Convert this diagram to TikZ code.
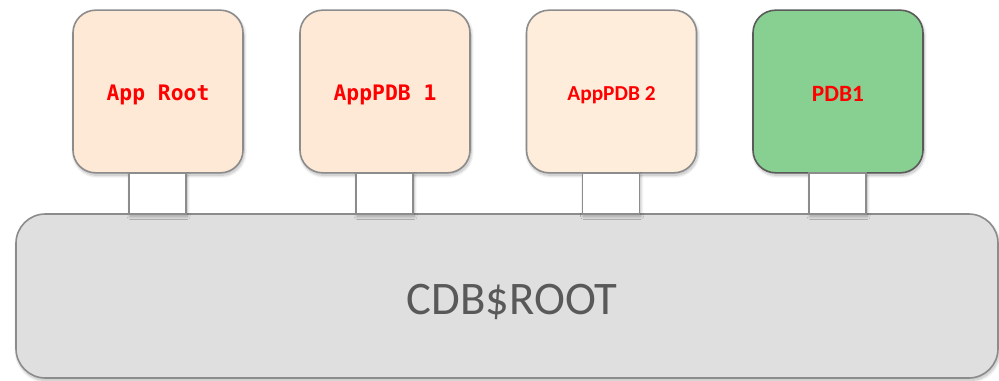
\documentclass[tikz,border=0pt]{standalone}
\usepackage{fontspec}
\setmainfont{Carlito}
\newfontfamily\monobold{DejaVu Sans Mono}
\usetikzlibrary{shadows.blur}
\definecolor{peach}{HTML}{FEE8D6}
\definecolor{peachlight}{HTML}{FEEDDB}
\definecolor{pdbgreen}{HTML}{88D091}
\definecolor{rootgray}{HTML}{DFDFDF}
\definecolor{edgegray}{HTML}{8C8C8C}
\definecolor{darkedge}{HTML}{5A5A5A}
\definecolor{labelgray}{HTML}{595959}
\tikzset{
  x=0.75pt, y=-0.75pt,
  softshadow/.style={blur shadow={shadow xshift=0.8pt, shadow yshift=-1.8pt,
      shadow blur steps=25, shadow blur radius=2.2pt, shadow opacity=30}},
  pdbbox/.style={draw=edgegray, line width=1.2pt, rounded corners=17pt,
      minimum width=127.5pt, minimum height=122pt, inner sep=0pt,
      text height=13pt, text depth=0pt, text=red, softshadow},
  plug/.style={draw=edgegray, fill=white, line width=1.2pt,
      minimum width=42.75pt, minimum height=30.75pt, inner sep=0pt, softshadow},
  rootbox/.style={draw=edgegray, fill=rootgray, line width=1.2pt,
      rounded corners=22pt, minimum width=736.5pt, minimum height=123pt,
      inner sep=0pt, text height=27pt, text depth=0pt, softshadow},
  monolabel/.style={font=\monobold\bfseries\fontsize{16}{18}\selectfont},
  sanslabel/.style={font=\bfseries\fontsize{16}{20}\selectfont},
  biglabel/.style={font=\bfseries\fontsize{17.5}{21}\selectfont, text height=15pt},
}
\begin{document}
\begin{tikzpicture}
\useasboundingbox (0,0) rectangle (999,381);

% container database
\node[rootbox, text=labelgray, font=\fontsize{35}{40}\selectfont]
  (cdbroot) at (507,296) {\hspace*{7.5pt}CDB\$ROOT};

% pluggable databases
\node[pdbbox, fill=peach, monolabel]      (approot) at (158,91.5) {App Root};
\node[pdbbox, fill=peach, monolabel]      (apppdb1) at (385,91.5) {AppPDB 1};
\node[pdbbox, fill=peachlight, sanslabel] (apppdb2) at (611.5,91.5) {AppPDB 2};
\node[pdbbox, fill=pdbgreen, draw=darkedge, biglabel] (pdb1) at (838,91.5) {PDB1};

% plugs joining each pluggable database to the root
\node[plug] (plug1) at (157.5,193.5) {};
\node[plug] (plug2) at (384.5,193.5) {};
\node[plug] (plug3) at (611,193.5) {};
\node[plug] (plug4) at (837.5,193.5) {};
\end{tikzpicture}
\end{document}
